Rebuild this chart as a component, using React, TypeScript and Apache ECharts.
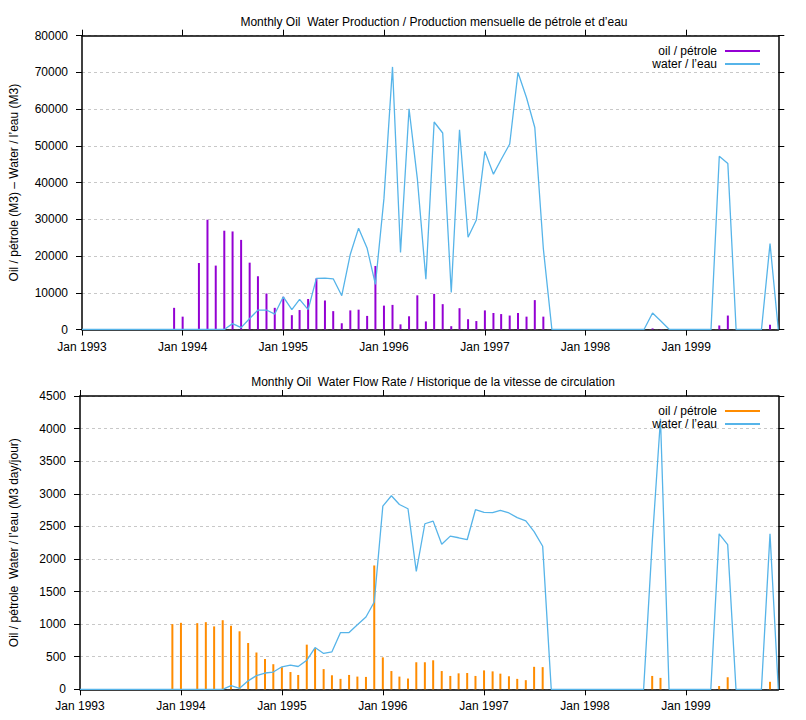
import { useEffect, useRef } from 'react';
import * as echarts from 'echarts';

// monthly samples, Jan 1993 .. Dec 1999
const months = [
  '1993-01', '1993-02', '1993-03', '1993-04', '1993-05', '1993-06', '1993-07', '1993-08', '1993-09', '1993-10', '1993-11', '1993-12',
  '1994-01', '1994-02', '1994-03', '1994-04', '1994-05', '1994-06', '1994-07', '1994-08', '1994-09', '1994-10', '1994-11', '1994-12',
  '1995-01', '1995-02', '1995-03', '1995-04', '1995-05', '1995-06', '1995-07', '1995-08', '1995-09', '1995-10', '1995-11', '1995-12',
  '1996-01', '1996-02', '1996-03', '1996-04', '1996-05', '1996-06', '1996-07', '1996-08', '1996-09', '1996-10', '1996-11', '1996-12',
  '1997-01', '1997-02', '1997-03', '1997-04', '1997-05', '1997-06', '1997-07', '1997-08', '1997-09', '1997-10', '1997-11', '1997-12',
  '1998-01', '1998-02', '1998-03', '1998-04', '1998-05', '1998-06', '1998-07', '1998-08', '1998-09', '1998-10', '1998-11', '1998-12',
  '1999-01', '1999-02', '1999-03', '1999-04', '1999-05', '1999-06', '1999-07', '1999-08', '1999-09', '1999-10', '1999-11', '1999-12',
];

// production (M3)
const oilVolume = [
  0, 0, 0, 0, 0, 0, 0, 0, 0, 0, 0, 5900,
  3500, 0, 18100, 29900, 17400, 26900, 26700, 24400, 18200, 14500, 9800, 5900,
  8900, 3900, 5300, 8300, 13900, 7900, 5000, 1700, 5200, 5400, 3700, 17300,
  6500, 6700, 1400, 3600, 9300, 2200, 9700, 6900, 900, 5800, 2800, 2300,
  5200, 4500, 4200, 3800, 4500, 3500, 8000, 3500, 0, 0, 0, 0,
  0, 0, 0, 0, 0, 0, 0, 0, 300, 100, 0, 0,
  0, 0, 0, 0, 1100, 3800, 0, 0, 0, 0, 1300, 0,
];
const waterVolume = [
  0, 0, 0, 0, 0, 0, 0, 0, 0, 0, 0, 0,
  0, 0, 0, 0, 0, 0, 1600, 500, 3000, 5300, 5300, 4200,
  8900, 5400, 8200, 5400, 13900, 14000, 13800, 9200, 20500, 27600, 22100, 12300,
  35700, 71500, 21000, 60100, 41100, 13700, 56500, 53500, 10100, 54400, 25100, 29800,
  48500, 42300, 46300, 50500, 70000, 63100, 55000, 22000, 0, 0, 0, 0,
  0, 0, 0, 0, 0, 0, 0, 0, 4500, 2300, 0, 0,
  0, 0, 0, 0, 47200, 45200, 0, 0, 0, 0, 23400, 0,
];

// flow rate (M3 day/jour)
const oilRate = [
  0, 0, 0, 0, 0, 0, 0, 0, 0, 0, 0, 1000,
  1020, 0, 1015, 1030, 965, 1060, 975, 890, 710, 565, 465, 385,
  340, 265, 220, 685, 630, 310, 215, 160, 220, 195, 190, 1900,
  490, 280, 195, 165, 415, 415, 445, 280, 205, 245, 250, 205,
  290, 275, 240, 200, 160, 140, 345, 340, 0, 0, 0, 0,
  0, 0, 0, 0, 0, 0, 0, 0, 205, 175, 0, 0,
  0, 0, 0, 0, 50, 185, 0, 0, 0, 0, 115, 0,
];
const waterRate = [
  0, 0, 0, 0, 0, 0, 0, 0, 0, 0, 0, 0,
  0, 0, 0, 0, 0, 0, 55, 15, 130, 210, 250, 265,
  345, 370, 350, 445, 640, 550, 575, 870, 870, 990, 1110, 1340,
  2810, 2970, 2835, 2770, 1810, 2540, 2580, 2225, 2350, 2325, 2295, 2755,
  2715, 2710, 2745, 2705, 2635, 2585, 2420, 2195, 0, 0, 0, 0,
  0, 0, 0, 0, 0, 0, 0, 0, 2250, 4150, 0, 0,
  0, 0, 0, 0, 2385, 2220, 0, 0, 0, 0, 2385, 0,
];

const xTicks = ['1993-01', '1994-01', '1995-01', '1996-01', '1997-01', '1998-01', '1999-01'];
const xTickLabels = ['Jan 1993', 'Jan 1994', 'Jan 1995', 'Jan 1996', 'Jan 1997', 'Jan 1998', 'Jan 1999'];

const oilName = 'oil / pétrole';
const waterName = 'water / l’eau';

const toTime = (m: string) => {
  const [y, mo] = m.split('-').map(Number);
  return Date.UTC(y, mo - 1, 1);
};

const FONT = '"Liberation Sans", Arial, Helvetica, sans-serif';
const OIL_TOP = '#9400d3';
const OIL_BOTTOM = '#ff8c00';
const WATER = '#56b4e9';

export default function App() {
  const chartRef = useRef<HTMLDivElement>(null);

  useEffect(() => {
    if (!chartRef.current) return;
    const chart = echarts.init(chartRef.current, undefined, { renderer: 'svg' });

    const tickTimes = xTicks.map(toTime);
    const xMin = toTime('1993-01');
    const xMax = toTime('1999-12');
    const pairs = (vals: number[]) => months.map((m, i) => [toTime(m), vals[i]]);

    const grids = [
      { left: 79.7, top: 35.7, width: 698.6, height: 293.8 },
      { left: 77.3, top: 396, width: 701, height: 293.3 },
    ];

    // x axis holds timestamps on a plain value scale, ticks only at each January
    const xAxisFor = (gridIndex: number, position: 'bottom' | 'top') => ({
      type: 'value',
      gridIndex,
      position,
      min: xMin,
      max: xMax,
      axisLine: { show: true, onZero: false, lineStyle: { color: '#000', width: 1.5 } },
      axisTick: { show: true, length: 6, customValues: tickTimes, lineStyle: { color: '#000', width: 1 } },
      axisLabel: {
        show: position === 'bottom',
        customValues: tickTimes,
        margin: 11,
        fontSize: 12,
        color: '#000',
        fontFamily: FONT,
        hideOverlap: false,
        formatter: (v: number) => {
          const i = tickTimes.indexOf(v);
          return i >= 0 ? xTickLabels[i] : '';
        },
      },
      splitLine: { show: false },
    });

    const yAxisFor = (gridIndex: number, max: number, interval: number, name: string, nameGap: number, position: 'left' | 'right') => ({
      type: 'value',
      gridIndex,
      position,
      min: 0,
      max,
      interval,
      name: position === 'left' ? name : '',
      nameLocation: 'middle',
      nameGap,
      nameTextStyle: { fontSize: 12, color: '#000', fontFamily: FONT },
      axisLine: { show: true, lineStyle: { color: '#000', width: 1.5 } },
      axisTick: { show: true, length: 6, lineStyle: { color: '#000', width: 1 } },
      axisLabel: {
        show: position === 'left',
        margin: 14,
        fontSize: 12,
        color: '#000',
        fontFamily: FONT,
        formatter: (v: number) => String(v),
      },
      splitLine: {
        show: position === 'left',
        lineStyle: { color: '#c8c8c8', type: [3, 3], width: 1 },
      },
    });

    const legendFor = (top: number, oilColor: string) => ({
      orient: 'vertical',
      align: 'right',
      right: 41,
      top,
      itemWidth: 35,
      itemHeight: 2,
      itemGap: 1,
      icon: 'rect',
      selectedMode: false,
      textStyle: { fontSize: 12, lineHeight: 12, color: '#000', fontFamily: FONT, padding: [0, 3, 0, 0] },
      data: [
        { name: oilName, itemStyle: { color: oilColor } },
        { name: waterName, itemStyle: { color: WATER } },
      ],
    });

    chart.setOption({
      animation: false,
      backgroundColor: '#fff',
      textStyle: { fontFamily: FONT, color: '#000' },
      title: [
        {
          text: 'Monthly Oil  Water Production / Production mensuelle de pétrole et d’eau',
          left: 429,
          top: 11,
          textAlign: 'center',
          textStyle: { fontSize: 12, fontWeight: 'normal', color: '#000', fontFamily: FONT },
        },
        {
          text: 'Monthly Oil  Water Flow Rate / Historique de la vitesse de circulation',
          left: 428,
          top: 371,
          textAlign: 'center',
          textStyle: { fontSize: 12, fontWeight: 'normal', color: '#000', fontFamily: FONT },
        },
      ],
      legend: [legendFor(40, OIL_TOP), legendFor(400, OIL_BOTTOM)],
      grid: grids.map((g) => ({ ...g, show: false, containLabel: false })),
      xAxis: [
        xAxisFor(0, 'bottom'),
        xAxisFor(0, 'top'),
        xAxisFor(1, 'bottom'),
        xAxisFor(1, 'top'),
      ],
      yAxis: [
        yAxisFor(0, 80000, 10000, 'Oil / pétrole (M3) – Water / l’eau (M3)', 62, 'left'),
        yAxisFor(0, 80000, 10000, '', 0, 'right'),
        yAxisFor(1, 4500, 500, 'Oil / pétrole  Water / l’eau (M3 day/jour)', 60, 'left'),
        yAxisFor(1, 4500, 500, '', 0, 'right'),
      ],
      series: [
        {
          name: oilName,
          type: 'bar',
          xAxisIndex: 0,
          yAxisIndex: 0,
          barWidth: 2,
          itemStyle: { color: OIL_TOP },
          data: pairs(oilVolume),
        },
        {
          name: waterName,
          type: 'line',
          xAxisIndex: 0,
          yAxisIndex: 0,
          symbol: 'none',
          itemStyle: { color: WATER },
          lineStyle: { color: WATER, width: 1.3 },
          data: pairs(waterVolume),
        },
        {
          name: oilName,
          type: 'bar',
          xAxisIndex: 2,
          yAxisIndex: 2,
          barWidth: 2,
          itemStyle: { color: OIL_BOTTOM },
          data: pairs(oilRate),
        },
        {
          name: waterName,
          type: 'line',
          xAxisIndex: 2,
          yAxisIndex: 2,
          symbol: 'none',
          itemStyle: { color: WATER },
          lineStyle: { color: WATER, width: 1.3 },
          data: pairs(waterRate),
        },
      ],
    });

    return () => {
      chart.dispose();
    };
  }, []);

  return (
    <div
      ref={chartRef}
      style={{ position: 'absolute', left: 0, top: 0, width: 806, height: 720, background: '#fff' }}
    />
  );
}
